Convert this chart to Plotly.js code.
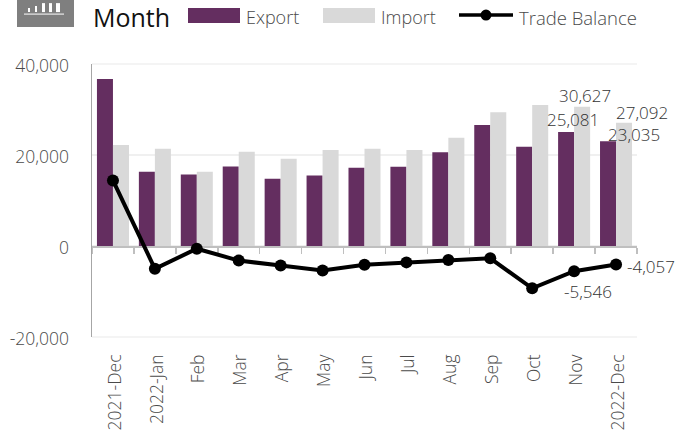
<!DOCTYPE html>
<html><head><meta charset="utf-8">
<script src="https://cdn.plot.ly/plotly-3.0.1.min.js"></script>
<style>html,body{margin:0;padding:0;background:#fff}</style></head>
<body><div id="c" style="width:690px;height:433px"></div>
<script>
const categories=["2021-Dec","2022-Jan","Feb","Mar","Apr","May","Jun","Jul","Aug","Sep","Oct","Nov","2022-Dec"];
const exportVals=[36700,16300,15700,17500,14800,15500,17200,17400,20600,26600,21800,25081,23035];
const importVals=[22200,21400,16300,20700,19200,21100,21400,21100,23800,29400,31000,30627,27092];
const balanceVals=[14400,-5000,-600,-3200,-4300,-5400,-4100,-3600,-3100,-2700,-9300,-5546,-4057];
const yTicks=[-20000,0,20000,40000];
const yTickText=["-20,000","0","20,000","40,000"];
const W=690,H=433,L=92,R=637,T=64,B=337.5;
const FONT='"Open Sans", sans-serif', GREY='#4a4a4a', PURPLE='#642e60', LIGHT='#d9d9d9';
const px=x=>(x-L)/(R-L), py=y=>(B-y)/(B-T);
const rect=(x0,y0,x1,y1,c)=>({type:'rect',xref:'paper',yref:'paper',x0:px(x0),x1:px(x1),y0:py(y0),y1:py(y1),fillcolor:c,line:{width:0},layer:'above'});
const seg=(x0,y0,x1,y1,c,w,layer)=>({type:'line',xref:'paper',yref:'paper',x0:px(x0),x1:px(x1),y0:py(y0),y1:py(y1),line:{color:c,width:w},layer:layer||'above'});
const label=(x,y,text,size,color,weight)=>({xref:'paper',yref:'paper',x:px(x),y:py(y),text,showarrow:false,xanchor:'left',yanchor:'middle',font:{family:FONT,size,color,weight:weight||300}});
const dataLabel=(i,vals,dx,dy)=>({x:categories[i],y:vals[i],text:vals[i].toLocaleString('en-US'),showarrow:false,xshift:dx,yshift:dy,xanchor:'center',yanchor:'middle',font:{family:FONT,size:17,color:'#333',weight:300}});
const last=categories.length-1;
const traces=[
 {type:'bar',name:'Export',x:categories,y:exportVals,marker:{color:PURPLE},hoverinfo:'skip'},
 {type:'bar',name:'Import',x:categories,y:importVals,marker:{color:LIGHT},hoverinfo:'skip'},
 {type:'scatter',mode:'lines+markers',name:'Trade Balance',x:categories,y:balanceVals,line:{color:'#000',width:4},marker:{color:'#000',size:12},hoverinfo:'skip'},
 {type:'scatter',mode:'lines',xaxis:'x2',x:categories,y:categories.map(()=>0),line:{width:0},showlegend:false,hoverinfo:'skip'}
];
const layout={
 width:W,height:H,autosize:false,showlegend:false,paper_bgcolor:'#fff',plot_bgcolor:'#fff',
 margin:{l:L,r:W-R,t:T,b:H-B,pad:0},barmode:'group',bargap:0.236,bargroupgap:0,
 font:{family:FONT,color:GREY,size:17},
 xaxis:{type:'category',range:[-0.5,12.5],showgrid:false,zeroline:false,showline:false,ticks:'',tickangle:-90,ticklabelstandoff:13,ticklabelshift:2,tickfont:{family:FONT,size:17.5,color:GREY,weight:300},automargin:false},
 xaxis2:{type:'category',overlaying:'x',anchor:'free',position:1/3,side:'bottom',range:[-0.5,12.5],tickson:'boundaries',ticks:'outside',ticklen:6,tickwidth:1.5,tickcolor:'#bfbfbf',showline:true,linecolor:'#bfbfbf',linewidth:1.5,showticklabels:false,showgrid:false,zeroline:false,layer:'below traces'},
 yaxis:{range:[-20000,40000],tickvals:yTicks,ticktext:yTickText,showgrid:true,gridcolor:'#f0f0f0',gridwidth:1.5,zeroline:false,showline:true,linecolor:'#a6a6a6',linewidth:1.5,ticks:'',ticklabelstandoff:18,ticklabelshift:2,tickfont:{family:FONT,size:17.5,color:GREY,weight:300},automargin:false},
 shapes:[
  seg(L,T,R,T,'#f0f0f0',1.5,'below'),
  seg(L,B,R,B,'#f0f0f0',1.5,'below'),
  rect(17,0,74,27,'#7f7f7f'),
  seg(24,14,64,14,'#fff',1),
  rect(28,8,30,12,'#fff'),rect(35,6,37,12,'#fff'),rect(42,3,45,12,'#fff'),rect(49,3,52,12,'#fff'),rect(56,3,60,12,'#fff'),
  rect(188,8,240,23,PURPLE),
  rect(323,8,375,23,LIGHT),
  seg(459,15,513,15,'#000',3.5),
  {type:'circle',xref:'paper',yref:'paper',x0:px(480.5),x1:px(491.5),y0:py(20.5),y1:py(9.5),fillcolor:'#000',line:{width:0},layer:'above'}
 ],
 annotations:[
  label(91,17,'Month',25,'#111',500),
  label(244,17,'Export',18,GREY),
  label(379,17,'Import',18,GREY),
  label(517,17,'Trade Balance',18.5,GREY),
  dataLabel(last-1,importVals,11,11),
  dataLabel(last-1,exportVals,-1,12),
  dataLabel(last,importVals,26,10),
  dataLabel(last,exportVals,18,7),
  dataLabel(last-1,balanceVals,14,-20),
  dataLabel(last,balanceVals,35,-2)
 ]
};
Plotly.newPlot('c',traces,layout,{displayModeBar:false,staticPlot:true});
</script></body></html>
